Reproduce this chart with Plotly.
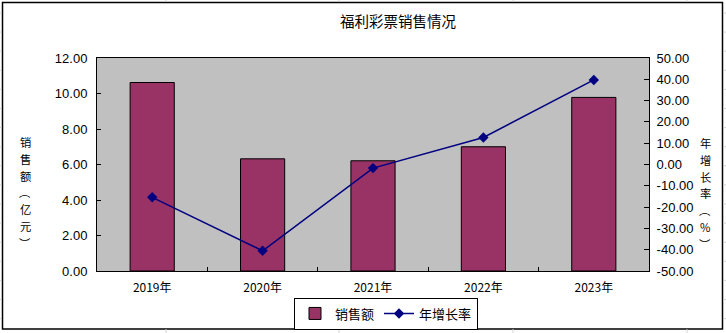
import plotly.graph_objects as go

# 福利彩票销售数据
years = ["2019年", "2020年", "2021年", "2022年", "2023年"]
sales = [10.62, 6.32, 6.21, 7.00, 9.78]          # 销售额（亿元）
growth = [-15.4, -40.5, -1.7, 12.7, 39.7]        # 年增长率（%）

left_ticks = [0, 2, 4, 6, 8, 10, 12]
right_ticks = [-50, -40, -30, -20, -10, 0, 10, 20, 30, 40, 50]

W, H = 726, 333
# plot area in pixels
PL, PR, PT, PB = 97, 649, 58, 271
pw, ph = PR - PL, PB - PT


def px(x):
    return (x - PL) / pw


def py(y):
    return (PB - y) / ph


num_font = dict(family="Liberation Sans, Arial, sans-serif", size=13, color="#000000")
cjk = "Noto Sans CJK SC, sans-serif"

fig = go.Figure()
fig.add_trace(go.Bar(
    x=years, y=sales, name="销售额",
    marker=dict(color="#993366", line=dict(color="#000000", width=1)),
    yaxis="y",
))
fig.add_trace(go.Scatter(
    x=years, y=growth, name="年增长率", mode="lines+markers",
    line=dict(color="#000080", width=1.5),
    marker=dict(symbol="diamond", size=8, color="#000080"),
    yaxis="y2",
))

fig.update_layout(
    width=W, height=H,
    margin=dict(l=PL, r=W - PR, t=PT, b=H - PB, pad=0, autoexpand=False),
    paper_bgcolor="#ffffff",
    plot_bgcolor="#c0c0c0",
    bargap=0.6,
    showlegend=True,
    legend=dict(
        orientation="h", x=px(386), y=py(313.5), xanchor="center", yanchor="middle",
        bordercolor="#000000", borderwidth=1, bgcolor="#ffffff",
        font=dict(family=cjk, size=13, color="#000000"),
        itemwidth=30, tracegroupgap=0,
    ),
    xaxis=dict(
        type="category", tickson="boundaries", ticks="inside", ticklen=4,
        tickcolor="#000000", showgrid=False, showline=True, linecolor="#000000",
        linewidth=1, mirror=True,
        tickfont=dict(family=cjk, size=12, color="#000000"),
        ticklabelstandoff=6,
    ),
    yaxis=dict(
        range=[0, 12], tickvals=left_ticks,
        ticktext=[f"{v:.2f}" for v in left_ticks],
        ticks="inside", ticklen=4, tickcolor="#000000", showgrid=False,
        zeroline=False, showline=True, linecolor="#000000", linewidth=1,
        tickfont=num_font, ticklabelstandoff=6,
    ),
    yaxis2=dict(
        range=[-50, 50], tickvals=right_ticks,
        ticktext=[f"{v:.2f}" for v in right_ticks],
        overlaying="y", side="right",
        ticks="inside", ticklen=5, tickcolor="#000000", showgrid=False,
        zeroline=False, showline=True, linecolor="#000000", linewidth=1,
        tickfont=num_font, ticklabelstandoff=4,
    ),
)

# chart title
fig.add_annotation(
    text="福利彩票销售情况", x=px(398), y=py(21), xref="paper", yref="paper",
    showarrow=False, xanchor="center", yanchor="middle",
    font=dict(family=cjk, size=14.5, color="#000000"),
)


# vertical axis titles, one character per annotation
def vertical_title(chars, xc, y_first, step=16.8):
    for i, ch in enumerate(chars):
        fig.add_annotation(
            text=ch, x=px(xc), y=py(y_first + i * step), xref="paper", yref="paper",
            showarrow=False, xanchor="center", yanchor="middle",
            font=dict(family=cjk, size=11.3, color="#000000"),
            borderpad=0,
        )


vertical_title(["销", "售", "额", "︵", "亿", "元", "︶"], 25, 142)
vertical_title(["年", "增", "长", "率", "︵", "%", "︶"], 705, 143)

shapes = []
# faint worksheet grid lines around the chart frame
grid = "#d0d0d0"
for k in range(18):
    yy = 13 + 19.1 * k
    shapes.append(dict(type="line", xref="paper", yref="paper",
                       x0=px(0), x1=px(2), y0=py(yy), y1=py(yy),
                       line=dict(color=grid, width=1)))
    shapes.append(dict(type="line", xref="paper", yref="paper",
                       x0=px(723), x1=px(726), y0=py(yy), y1=py(yy),
                       line=dict(color=grid, width=1)))
for xx in [166, 339, 513, 687]:
    shapes.append(dict(type="line", xref="paper", yref="paper",
                       x0=px(xx), x1=px(xx), y0=py(0), y1=py(2),
                       line=dict(color=grid, width=1)))
    shapes.append(dict(type="line", xref="paper", yref="paper",
                       x0=px(xx), x1=px(xx), y0=py(329), y1=py(333),
                       line=dict(color=grid, width=1)))
# chart frame
shapes.append(dict(type="rect", xref="paper", yref="paper",
                   x0=px(2.5), x1=px(722.5), y0=py(329), y1=py(2.5),
                   line=dict(color="#000000", width=1.5), fillcolor="rgba(0,0,0,0)",
                   layer="below"))
fig.update_layout(shapes=shapes)

fig.write_html("out.html")
